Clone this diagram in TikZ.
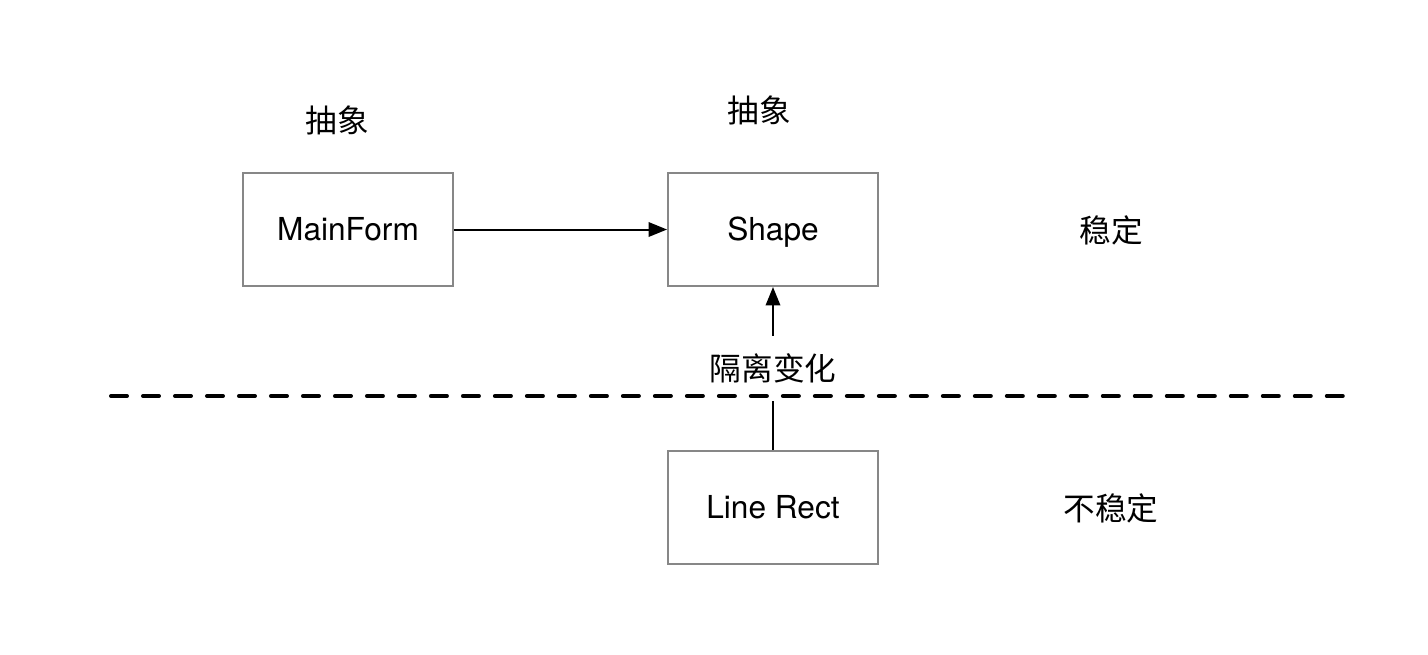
\documentclass[tikz,border=0pt]{standalone}
\usepackage{fontspec}
\setmainfont{TeX Gyre Heros}
\newfontfamily\cjk{Noto Sans CJK SC}
\usetikzlibrary{arrows.meta}

\begin{document}
\begin{tikzpicture}[x=0.02cm,y=-0.02cm,
    box/.style={draw=black!47,line width=0.04cm,fill=white,minimum width=4.2cm,minimum height=2.26cm,
                text height=15pt,text depth=2pt,font=\fontsize{18}{20}\selectfont},
    lbl/.style={font=\cjk\fontsize{18}{20}\selectfont},
    arr/.style={line width=0.04cm,-{Triangle[length=0.37cm,width=0.29cm]}}]
\useasboundingbox (0,0) rectangle (1428,654);

\node[box] (main)  at (348,229.5) {MainForm};
\node[box] (shape) at (773,229.5) {Shape};
\node[box] (rect)  at (773,507.5) {Line Rect};

\node[lbl] (absl) at (337,120) {抽象};
\node[lbl] (absr) at (759,110) {抽象};
\node[lbl] (stab) at (1111,230) {稳定};
\node[lbl] (unst) at (1111,508) {不稳定};

\draw[arr] (main) -- (shape);
\draw[arr] (rect) -- (shape)
    node[lbl,midway,fill=white,minimum height=1.3cm,inner xsep=2pt] (iso) {隔离变化};

% boundary between stable and unstable
\coordinate (dl) at (111,396);
\coordinate (dr) at (1345,396);
\draw[line width=0.08cm,line cap=round,dash pattern=on 0.32cm off 0.32cm] (dl) -- (dr);
\end{tikzpicture}
\end{document}
